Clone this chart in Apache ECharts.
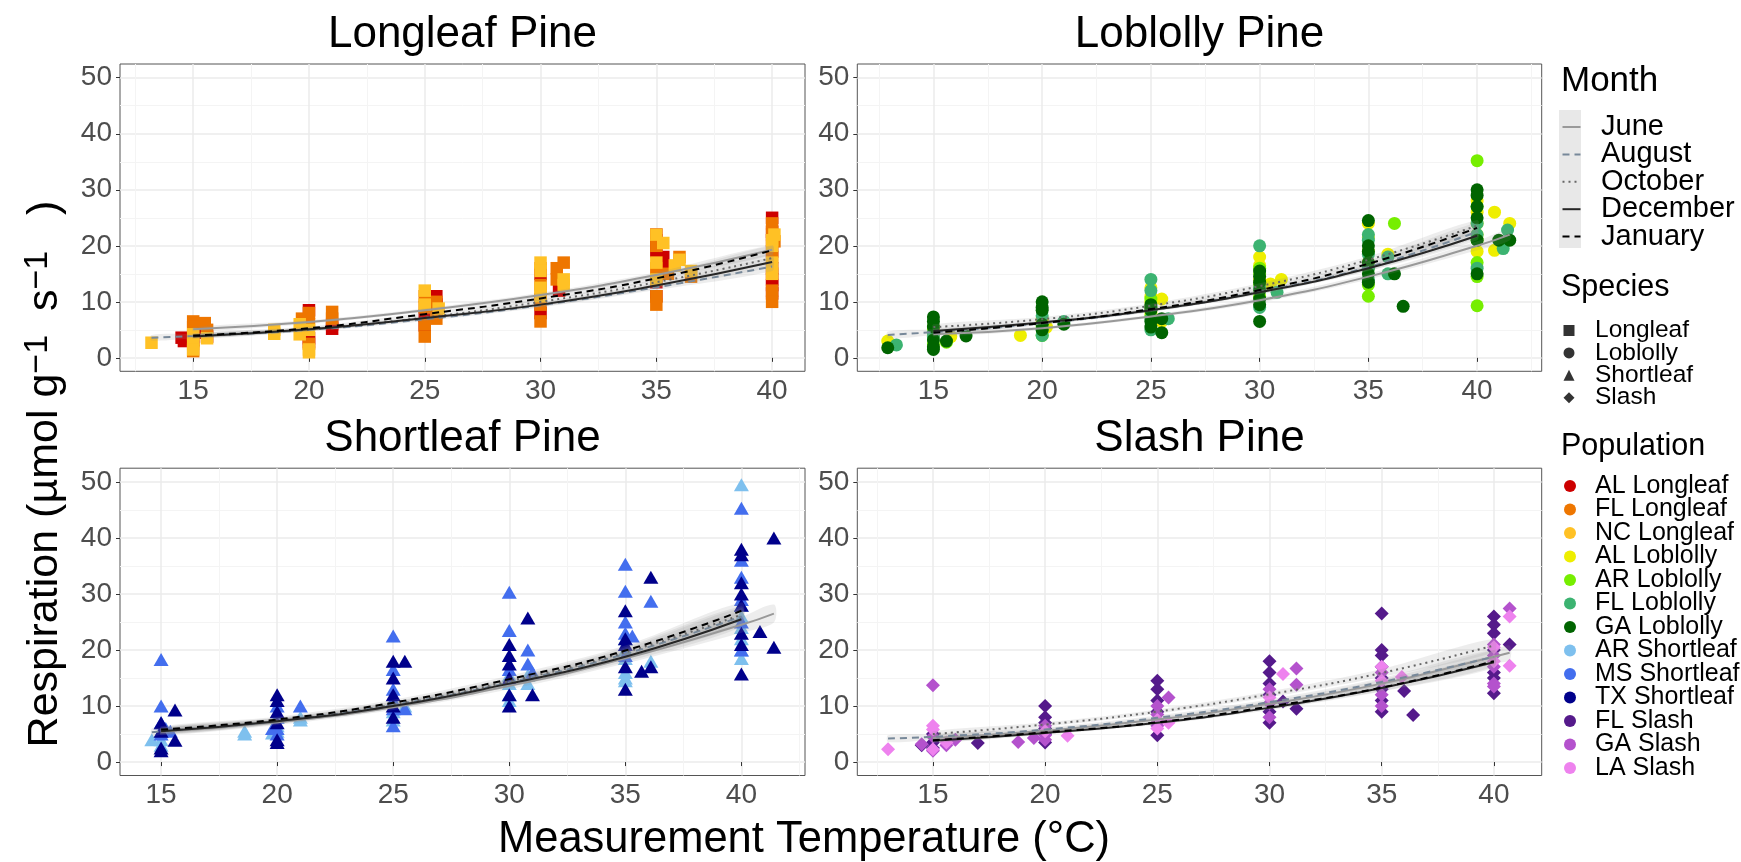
<!DOCTYPE html>
<html><head><meta charset="utf-8">
<script src="https://cdn.jsdelivr.net/npm/echarts@6/dist/echarts.min.js"></script>
<style>html,body{margin:0;padding:0;background:#fff}#chart{width:1741px;height:862px}</style>
</head><body><div id="chart"></div>
<script>
// ---------------- data ----------------
const panelTitles = ['Longleaf Pine', 'Loblolly Pine', 'Shortleaf Pine', 'Slash Pine'];
const speciesNames = ['Longleaf', 'Loblolly', 'Shortleaf', 'Slash'];
const months = ['June', 'August', 'October', 'December', 'January'];
const populations = ['AL Longleaf', 'FL Longleaf', 'NC Longleaf', 'AL Loblolly', 'AR Loblolly', 'FL Loblolly', 'GA Loblolly',
  'AR Shortleaf', 'MS Shortleaf', 'TX Shortleaf', 'FL Slash', 'GA Slash', 'LA Slash'];
const popSpecies = [0, 0, 0, 1, 1, 1, 1, 2, 2, 2, 3, 3, 3];
const xTicks = [15, 20, 25, 30, 35, 40];
const yTicks = [0, 10, 20, 30, 40, 50];
const xRanges = [[11.84, 41.42], [11.5, 42.97], [13.23, 42.74], [11.63, 42.13]];
const yRange = [-2.4, 52.45];

// points [temperature, respiration]
const alLongleaf = [[14.5,3.6],[14.6,3.0],[15,3.2],[15.5,4.5],[15.6,3.8],[20,8.5],[20,3.5],[20,2.8],[21,6.0],[21,5.2],[25,7.5],[25,5.8],[25.5,11],[25.5,9.5],[25.5,8.2],[30,15],[30,10.5],[30,8],[30.8,12],[35,22],[35,21],[35,19],[35,13.5],[35,11],[35.3,18],[35.3,16],[40,25],[40,22.5],[40,21],[40,19],[40,16],[40,14],[40,13],[40,11.5]];
const flLongleaf = [[15,6.5],[15,5.5],[15,3],[15,1.2],[15.5,6.2],[15.6,5.0],[19.7,7.0],[20,8],[20,6],[20,2.5],[21,8.2],[21,7.0],[25,11],[25,9],[25,6],[25,3.8],[25.5,10],[25.5,8.0],[25.5,7.0],[30,16],[30,13],[30,9.5],[30,6.5],[30.7,16],[30.7,14],[31,17],[35,20],[35,16],[35,11],[35,9.5],[35.5,15],[36,18],[36.5,14.5],[40,24],[40,22],[40,18],[40,15],[40,12],[40,10],[40.1,20.8]];
const ncLongleaf = [[13.2,2.7],[15,4.2],[15,2.5],[15,1.5],[15.6,3.5],[18.5,4.3],[18.5,5.0],[19.6,6.0],[19.6,4.2],[20,5],[20,1.0],[20,1.5],[25,12],[25,9.5],[25.6,8.8],[30,17],[30,15.5],[30,12.5],[30,11],[31,14],[31,13],[35,22],[35,17],[35,14],[35.3,20.5],[35.8,16.5],[36,17.5],[36.5,15.5],[40,21],[40,20],[40,17],[40,15],[40.1,22]];
const alLoblolly = [[12.9,3.0],[15,5.0],[15,4.0],[15.8,3.8],[19,4.0],[20,7.0],[20,6.5],[20.2,5.5],[25,12.5],[25,11],[25,10],[25,8],[25.5,10.5],[25.5,6.5],[30,18],[30,16.5],[30,14],[30.5,13.2],[31,14],[35,24],[35,21.5],[35,19],[35,17],[35.9,18.5],[40,28],[40,26],[40,24],[40,22],[40,19],[40.8,26],[40.8,19.2],[41.5,24]];
const arLoblolly = [[15,5.5],[15,4.5],[15,2.5],[15.6,2.8],[20,6],[20,5.5],[20,4],[25,10.5],[25,9],[25,7.5],[30,16],[30,15],[30,13],[30,11],[35,16],[35,13],[35,11],[36.2,24],[40,35.2],[40,27],[40,21],[40,17],[40,14.5],[40,9.3]];
const flLoblolly = [[13.3,2.3],[15,3.8],[15,4.5],[20,7.5],[20,5],[20,4],[21,6.5],[25,14],[25,12],[25,7],[25,5],[25.8,7],[30,20],[30,12.5],[30,9],[30.8,11.7],[35,22],[35,21],[35,18.5],[35,16],[35,14],[35.9,15],[35.9,18],[40,24],[40,22],[40,16],[41.2,19.5],[41.4,22.8]];
const gaLoblolly = [[12.9,1.8],[15,7.3],[15,6.5],[15,5.5],[15,3.2],[15,2.0],[15,1.5],[15.6,3.0],[16.5,3.9],[20,10],[20,9],[20,8.5],[20,6],[20,5],[21,6.0],[25,9.5],[25,9],[25,8.5],[25,6.5],[25,5.5],[25.5,7],[25.5,4.5],[30,15.5],[30,14.5],[30,13.5],[30,12],[30,10.5],[30,9.5],[30,6.5],[35,24.5],[35,20],[35,19],[35,17],[35,15],[35,13.5],[36.2,15],[36.6,9.2],[40,30],[40,29],[40,27],[40,25],[40,21],[40,15],[41,21],[41.5,21]];
const arShortleaf = [[14.6,4.0],[15,5.5],[15,4],[15,3],[18.6,5.5],[18.6,5.0],[19.8,5.2],[20,6.5],[20,5.5],[21,8],[21,7.5],[25,11],[25,9],[25,7.5],[25.5,10],[30,15.5],[30,14],[30,12],[30,11],[30.8,14],[30.8,15.5],[35,22],[35,20],[35,18.5],[35,16],[35,15],[35,14.5],[36.1,18],[40,49.5],[40,28],[40,26],[40,24],[40,22],[40,20],[40,18.5]];
const msShortleaf = [[15,18.3],[15,10],[15,7],[15,5],[15.2,6],[15.4,5.5],[19.8,6],[20,10],[20,8],[20,6],[20,5],[21,10],[25,22.5],[25,16.5],[25,13],[25,11],[25,9.5],[25,6.5],[25.5,9.5],[30,30.3],[30,23.5],[30,16.5],[30.8,20],[30.8,17.5],[31,16],[35,35.3],[35,30.5],[35,25],[35,23],[35,19],[35.3,22.5],[36.1,28.7],[40,45.3],[40,36],[40,33],[40,29],[40,25],[40,20]];
const txShortleaf = [[15,7],[15,5.5],[15,2.5],[15,2],[15.6,9.3],[15.6,3.9],[20,12],[20,11],[20,9],[20,7],[20,4],[20,3.5],[25,18],[25,15],[25,12],[25,10],[25,8],[25.5,18],[30,21],[30,19],[30,17.5],[30,15],[30,12],[30,10],[30.8,25.7],[31,12],[35,27],[35,22],[35,21],[35,17],[35,13],[35.7,16.2],[36.1,33],[36.1,17],[40,38],[40,37],[40,32],[40,30],[40,28],[40,23],[40,21],[40,15.7],[40.8,23.3],[41.4,40],[41.4,20.5]];
const flSlash = [[14.5,3.0],[15,5],[15,3.5],[15,2.5],[17,3.4],[20,10],[20,8],[20,7],[20,6],[20,5],[20,3.5],[25,14.5],[25,13],[25,11],[25,9],[25,7],[25,4.8],[30,18],[30,16],[30,14],[30,12],[30,9],[30,7],[30.6,10.8],[31.2,9.5],[35,26.5],[35,20],[35,19],[35,17],[35,15],[35,13],[35,11],[35,9],[36,12.7],[36.4,8.4],[40,26],[40,24.5],[40,23],[40,20],[40,16],[40,15],[40,12.3],[40.7,21]];
const gaSlash = [[14.5,3.2],[15,13.7],[15,4.5],[15,2],[15.6,3.0],[16,4.0],[18.8,3.6],[19.5,4.3],[20,6.5],[20,4.8],[20,4],[25,10],[25,8.5],[25,6.5],[25.5,11.5],[30,13],[30,10.5],[30,8],[31.2,16.7],[31.2,13.8],[35,16],[35,12],[35,10],[40,21],[40,19],[40,17],[40,14],[40,13.5],[40.7,27.4]];
const laSlash = [[13,2.3],[15,6.5],[15,5.8],[15,2.3],[15.6,3.5],[20,5.5],[21,4.7],[25,6],[25,7.5],[25.5,7],[30,11.5],[30.6,15.7],[35,17],[35,14.5],[35.9,15.2],[40,20.5],[40,18],[40.7,26],[40.7,17.2]];

// fitted curves [temperature, fit, ribbon half-width]
const longleafJune = [[15,5.1,0.4],[20,6.4,0.3],[25,8.5,0.3],[30,11.2,0.4],[35,14.8,0.5],[40,19.3,0.8]];
const longleafAugust = [[13.2,3.6,0.5],[15,3.9,0.4],[20,5.0,0.3],[25,6.9,0.3],[30,9.4,0.4],[35,12.6,0.5],[40,16.3,0.8]];
const longleafOctober = [[15,3.9,0.4],[20,5.1,0.3],[25,7.2,0.3],[30,10.0,0.4],[35,13.5,0.5],[40,17.8,0.8]];
const longleafDecember = [[15,3.8,0.4],[20,5.1,0.3],[25,7.1,0.3],[30,9.5,0.4],[35,12.9,0.5],[40,17.1,0.8]];
const longleafJanuary = [[15,4.0,0.4],[20,5.3,0.3],[25,7.8,0.3],[30,10.6,0.4],[35,14.2,0.5],[40,19.2,0.8]];
const loblollyJune = [[15,4.2,0.4],[20,5.3,0.3],[25,7.4,0.3],[30,10.3,0.4],[35,14.5,0.5],[40,20.0,0.8],[41.5,22.0,1.0]];
const loblollyAugust = [[12.9,4.1,0.6],[15,4.6,0.5],[20,6.2,0.3],[25,8.5,0.3],[30,11.8,0.4],[35,16.2,0.6],[40,22.5,1.0]];
const loblollyOctober = [[15,5.5,0.5],[20,6.9,0.4],[25,9.3,0.4],[30,12.8,0.5],[35,17.5,0.6],[40,23.6,1.0]];
const loblollyDecember = [[15,4.8,0.4],[20,6.3,0.3],[25,8.5,0.3],[30,11.7,0.4],[35,16.0,0.5],[40,21.8,0.8]];
const loblollyJanuary = [[15,4.5,0.4],[20,6.2,0.3],[25,8.7,0.3],[30,12.1,0.4],[35,16.8,0.5],[40,23.2,0.9]];
const shortleafJune = [[15,5.4,0.6],[20,7.1,0.5],[25,9.8,0.5],[30,13.6,0.6],[35,18.5,0.9],[40,24.5,1.4],[41.4,26.5,1.6]];
const shortleafAugust = [[14.6,5.3,0.7],[15,5.5,0.6],[20,7.3,0.5],[25,10.2,0.5],[30,14.2,0.6],[35,19.3,0.9],[40,26.0,1.5]];
const shortleafOctober = [[15,5.6,0.6],[20,7.4,0.5],[25,10.3,0.5],[30,14.4,0.6],[35,19.6,0.9],[40,26.3,1.5]];
const shortleafDecember = [[15,5.5,0.6],[20,7.3,0.5],[25,10.0,0.5],[30,14.0,0.6],[35,18.8,0.9],[40,25.5,1.4]];
const shortleafJanuary = [[15,5.8,0.6],[20,7.6,0.5],[25,10.6,0.5],[30,14.8,0.6],[35,19.9,0.9],[40,27.0,1.5]];
const slashJune = [[15,4.3,0.5],[20,5.6,0.4],[25,7.6,0.4],[30,10.4,0.5],[35,14.0,0.7],[40,18.8,1.2],[40.7,19.5,1.3]];
const slashAugust = [[13,4.2,0.6],[15,4.5,0.5],[20,5.8,0.4],[25,7.9,0.4],[30,10.7,0.5],[35,14.3,0.7],[40,18.8,1.2]];
const slashOctober = [[15,5.0,0.5],[20,6.7,0.4],[25,9.0,0.4],[30,12.1,0.5],[35,15.9,0.7],[40,20.8,1.2]];
const slashDecember = [[15,3.8,0.4],[20,5.2,0.3],[25,7.0,0.3],[30,9.7,0.4],[35,13.2,0.6],[40,17.8,1.0]];
const slashJanuary = [[15,3.9,0.4],[20,5.3,0.3],[25,7.1,0.3],[30,9.9,0.4],[35,13.3,0.6],[40,18.0,1.0]];

// ---------------- styling / layout ----------------
const FONT = "'Liberation Sans', Arial, Helvetica, sans-serif";
const popData = [alLongleaf, flLongleaf, ncLongleaf, alLoblolly, arLoblolly, flLoblolly, gaLoblolly,
  arShortleaf, msShortleaf, txShortleaf, flSlash, gaSlash, laSlash];
const popColors = ['#CD0000', '#EE7600', '#FFC125', '#EEEE00', '#76EE00', '#3CB371', '#006400',
  '#7EC0EE', '#436EEE', '#00008B', '#551A8B', '#B452CD', '#EE82EE'];
const speciesSymbols = ['rect', 'circle', 'triangle', 'diamond'];
const speciesSizes = [12.5, 13, [15, 13], 14];
const panelCurves = [
  [longleafJune, longleafAugust, longleafOctober, longleafDecember, longleafJanuary],
  [loblollyJune, loblollyAugust, loblollyOctober, loblollyDecember, loblollyJanuary],
  [shortleafJune, shortleafAugust, shortleafOctober, shortleafDecember, shortleafJanuary],
  [slashJune, slashAugust, slashOctober, slashDecember, slashJanuary]
];
const monthColors = ['#999999', '#778899', '#666666', '#262626', '#000000'];
const monthDash = ['solid', [7, 5], [2, 4], 'solid', [7, 5]];
const gridBoxes = [[120, 64, 685, 307.3], [857.3, 64, 684.4, 307.3], [120, 468.2, 685, 307.3], [857.3, 468.2, 684.4, 307.3]];

const grid = gridBoxes.map(g => ({
  left: g[0], top: g[1], width: g[2], height: g[3], show: true,
  borderColor: '#555555', borderWidth: 1, backgroundColor: '#fff', containLabel: false
}));

const axisLabelStyle = { fontSize: 28, color: '#4D4D4D', fontFamily: FONT };
const xAxis = gridBoxes.map((g, i) => ({
  gridIndex: i, type: 'value', min: xRanges[i][0], max: xRanges[i][1],
  axisLine: { show: false },
  axisTick: { show: true, length: 4, customValues: xTicks, lineStyle: { color: '#333', width: 1 } },
  axisLabel: Object.assign({ customValues: xTicks, margin: 6, formatter: v => (v % 5 === 0 ? String(v) : '') }, axisLabelStyle),
  splitLine: { show: true, lineStyle: { color: '#EBEBEB', width: 1.5 } },
  minorTick: { show: false, splitNumber: 2 },
  minorSplitLine: { show: true, lineStyle: { color: '#F4F4F4', width: 1 } }
}));
const yAxis = gridBoxes.map((g, i) => ({
  gridIndex: i, type: 'value', min: yRange[0], max: yRange[1],
  axisLine: { show: false },
  axisTick: { show: true, length: 4, customValues: yTicks, lineStyle: { color: '#333', width: 1 } },
  axisLabel: Object.assign({ customValues: yTicks, margin: 8, formatter: v => (v % 10 === 0 ? String(v) : '') }, axisLabelStyle),
  splitLine: { show: true, lineStyle: { color: '#EBEBEB', width: 1.5 } },
  minorTick: { show: false, splitNumber: 2 },
  minorSplitLine: { show: true, lineStyle: { color: '#F4F4F4', width: 1 } }
}));

const series = [];
// points
popData.forEach((d, k) => {
  const p = popSpecies[k];
  series.push({
    type: 'scatter', name: populations[k], xAxisIndex: p, yAxisIndex: p, data: d,
    symbol: speciesSymbols[p], symbolSize: speciesSizes[p],
    itemStyle: { color: popColors[k], opacity: 1 }, z: 2, silent: true
  });
});
// ribbons and fitted lines
panelCurves.forEach((curves, p) => {
  curves.forEach((c, m) => {
    series.push({
      type: 'custom', xAxisIndex: p, yAxisIndex: p, z: 3, silent: true, clip: true,
      data: [[c[0][0], c[0][1]]],
      renderItem: function (params, api) {
        const pts = [];
        for (let i = 0; i < c.length; i++) pts.push(api.coord([c[i][0], c[i][1] + c[i][2]]));
        for (let i = c.length - 1; i >= 0; i--) pts.push(api.coord([c[i][0], c[i][1] - c[i][2]]));
        return { type: 'polygon', shape: { points: pts, smooth: 0.3 }, style: { fill: 'rgba(140,140,140,0.16)' } };
      }
    });
  });
  curves.forEach((c, m) => {
    series.push({
      type: 'line', name: months[m], xAxisIndex: p, yAxisIndex: p, z: 4, silent: true,
      data: c.map(v => [v[0], v[1]]), smooth: 0.5,
      symbol: 'none', showSymbol: false,
      lineStyle: { color: monthColors[m], width: 2, type: monthDash[m] }
    });
  });
});
// species key (legend entries only)
speciesNames.forEach((n, i) => {
  series.push({ type: 'scatter', name: n, data: [], symbol: speciesSymbols[i], itemStyle: { color: '#000' }, xAxisIndex: 0, yAxisIndex: 0 });
});

const legendText = (fs, padL) => ({ fontSize: fs, color: '#000', fontFamily: FONT, padding: [0, 0, 0, padL] });
const legend = [
  {
    orient: 'vertical', left: 1561.5, top: 112.5, padding: 0, itemGap: -1.6, itemWidth: 18, itemHeight: 14,
    selectedMode: false, textStyle: legendText(29, 15.5),
    data: months.map((m, i) => ({ name: m, itemStyle: { opacity: 0 }, lineStyle: { color: monthColors[i], width: 2, type: monthDash[i] } }))
  },
  {
    orient: 'vertical', left: 1563.5, top: 318, padding: 0, itemGap: -2.6, itemWidth: 11, itemHeight: 11,
    selectedMode: false, textStyle: legendText(24.5, 15.5),
    data: speciesNames.map((n, i) => ({ name: n, icon: speciesSymbols[i] }))
  },
  {
    orient: 'vertical', left: 1564, top: 473.5, padding: 0, itemGap: -1.5, itemWidth: 12, itemHeight: 12,
    selectedMode: false, textStyle: legendText(25, 14),
    data: populations.map(n => ({ name: n, icon: 'circle' }))
  }
];

const titleCenters = [[462.5, 34.5], [1199.5, 34.5], [462.5, 438.5], [1199.5, 438.5]];
const graphic = [
  { type: 'rect', left: 1559, top: 110, shape: { width: 22, height: 138 }, style: { fill: '#E8E8E8' }, z: -1, silent: true }
];
panelTitles.forEach((t, i) => graphic.push({
  type: 'text', x: titleCenters[i][0], y: titleCenters[i][1], silent: true,
  style: { text: t, fontSize: 44, fontFamily: FONT, fill: '#000', textAlign: 'center', textVerticalAlign: 'middle' }
}));
graphic.push({
  type: 'text', x: 804, y: 839.5, silent: true,
  style: { text: 'Measurement Temperature (°C)', fontSize: 43.5, fontFamily: FONT, fill: '#000', textAlign: 'center', textVerticalAlign: 'middle' }
});
graphic.push({
  type: 'text', x: 45.5, y: 474, rotation: Math.PI / 2, silent: true,
  style: {
    text: '{a|Respiration (µmol g}{s|−1}{a|  s}{s|−1}{a|   )}', fill: '#000', fontFamily: FONT, fontSize: 43,
    textAlign: 'center', textVerticalAlign: 'middle',
    rich: {
      a: { fontSize: 43, fontFamily: FONT, fill: '#000', lineHeight: 50 },
      s: { fontSize: 34, fontFamily: FONT, fill: '#000', lineHeight: 24, verticalAlign: 'top' }
    }
  }
});
[['Month', 81, 35], ['Species', 288, 30.5], ['Population', 447, 30.5]].forEach(t => graphic.push({
  type: 'text', x: 1561, y: t[1], silent: true,
  style: { text: t[0], fontSize: t[2], fontFamily: FONT, fill: '#000', textAlign: 'left', textVerticalAlign: 'middle' }
}));

const chart = echarts.init(document.getElementById('chart'), null, { renderer: 'canvas' });
chart.setOption({
  animation: false, backgroundColor: '#fff',
  grid, xAxis, yAxis, series, legend, graphic
});
</script>
</body></html>
